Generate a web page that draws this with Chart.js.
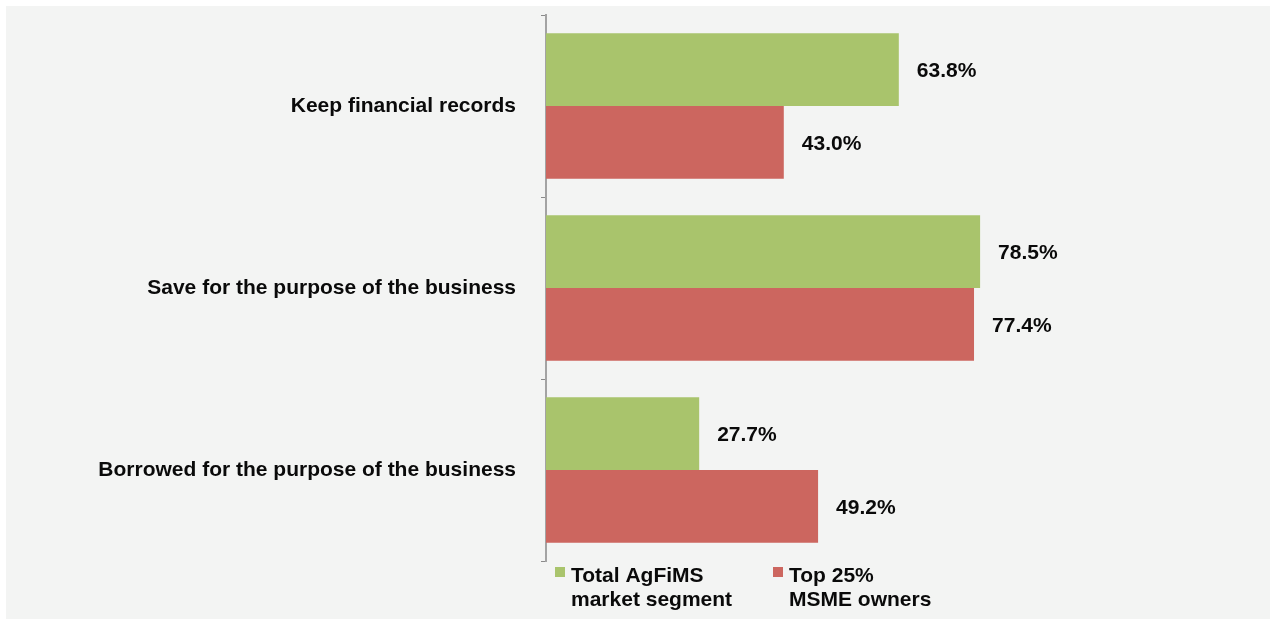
<!DOCTYPE html>
<html>
<head>
<meta charset="utf-8">
<script src="https://cdn.jsdelivr.net/npm/chart.js@4"></script>
<style>
  body { margin: 0; background: #fff; }
  #wrap { position: absolute; left: 6px; top: 6px; width: 1264px; height: 613px; background: #f3f4f3; }
</style>
</head>
<body>
<div id="wrap"><canvas id="chart" width="1264" height="613"></canvas></div>
<script>
const categories = [
  'Keep financial records',
  'Save for the purpose of the business',
  'Borrowed for the purpose of the business',
]
const totalSegment = [63.8, 78.5, 27.7]
const topOwners = [43.0, 77.4, 49.2]
const legendLines = [
  ['Total AgFiMS', 'market segment'],
  ['Top 25%', 'MSME owners'],
]

const FONT = '"Liberation Sans", Arial, Helvetica, sans-serif'
const TEXT = '#0a0a0a'

// value text to the right of each bar
const barValues = {
  id: 'barValues',
  afterDatasetsDraw(chart) {
    const ctx = chart.ctx
    ctx.save()
    ctx.font = 'bold 21px ' + FONT
    ctx.fillStyle = TEXT
    ctx.textBaseline = 'middle'
    ctx.textAlign = 'left'
    chart.data.datasets.forEach((ds, i) => {
      chart.getDatasetMeta(i).data.forEach((bar, j) => {
        ctx.fillText(ds.data[j].toFixed(1) + '%', bar.x + 18, bar.y + 2)
      })
    })
    ctx.restore()
  },
}

// two-line legend under the plot
const bottomLegend = {
  id: 'bottomLegend',
  afterDraw(chart) {
    const ctx = chart.ctx
    const area = chart.chartArea
    ctx.save()
    ctx.font = 'bold 21px ' + FONT
    ctx.textBaseline = 'alphabetic'
    ctx.textAlign = 'left'
    const starts = [area.left + 9, area.left + 227]
    chart.data.datasets.forEach((ds, i) => {
      const x = starts[i]
      const y = area.bottom + 6
      ctx.fillStyle = ds.backgroundColor
      ctx.fillRect(x, y, 10, 10)
      ctx.fillStyle = TEXT
      legendLines[i].forEach((line, k) => {
        ctx.fillText(line, x + 16, y + 15 + k * 24)
      })
    })
    ctx.restore()
  },
}

const config = {
  type: 'bar',
  data: {
    labels: categories,
    datasets: [
      {
        label: legendLines[0].join(' '),
        data: totalSegment,
        backgroundColor: '#a9c46c',
        barPercentage: 1,
        categoryPercentage: 0.8,
      },
      {
        label: legendLines[1].join(' '),
        data: topOwners,
        backgroundColor: '#cc665f',
        barPercentage: 1,
        categoryPercentage: 0.8,
      },
    ],
  },
  options: {
    indexAxis: 'y',
    responsive: false,
    animation: false,
    layout: { padding: { top: 9, bottom: 58, right: 171, left: 0 } },
    plugins: {
      legend: { display: false },
      tooltip: { enabled: false },
    },
    scales: {
      x: {
        display: false,
        min: 0,
        max: 100,
      },
      y: {
        afterFit: (scale) => {
          scale.width = 540
          scale.paddingTop = 0
          scale.paddingBottom = 0
        },
        border: { color: '#a3a3a3', width: 2 },
        grid: {
          offset: true,
          drawOnChartArea: false,
          tickLength: 5,
          color: '#8a8a8a',
        },
        ticks: {
          padding: 25,
          color: TEXT,
          font: { family: FONT, size: 21, weight: 'bold' },
        },
      },
    },
  },
  plugins: [barValues, bottomLegend],
}

new Chart(document.getElementById('chart'), config)
</script>
</body>
</html>
